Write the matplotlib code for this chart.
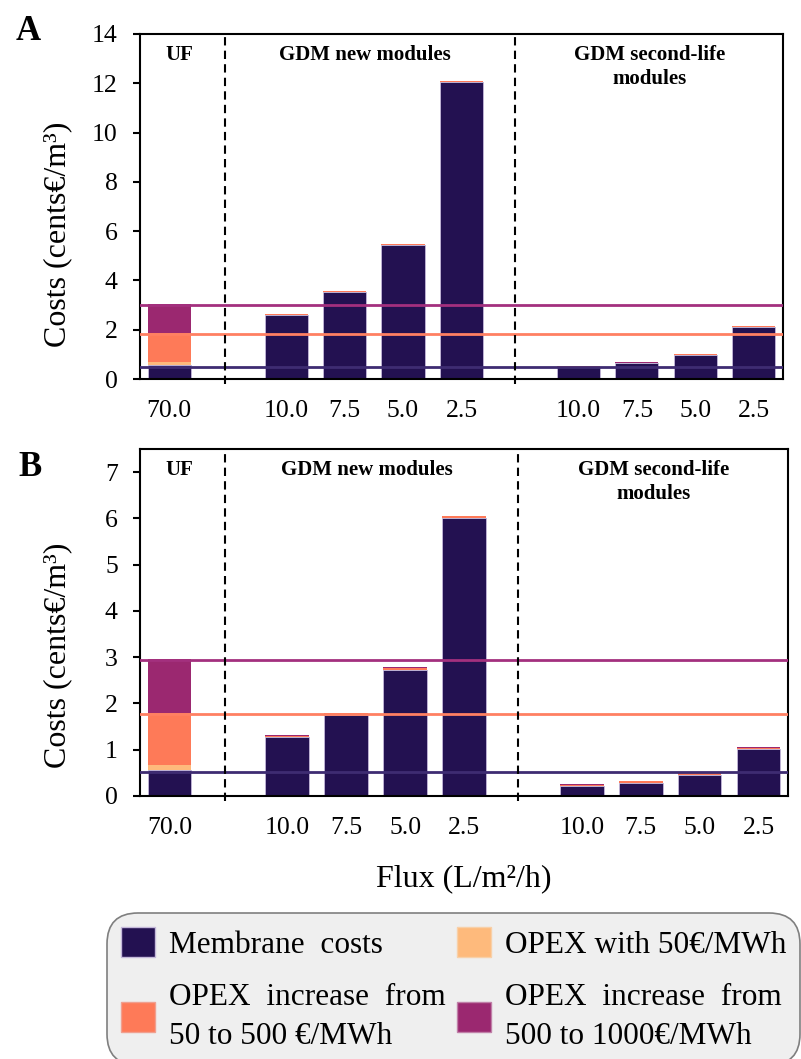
import numpy as np
import matplotlib
matplotlib.use("Agg")
import matplotlib.pyplot as plt
from matplotlib.patches import Patch

plt.rcParams['font.family'] = ['Liberation Serif', 'DejaVu Serif']

# Datos
flux = ["70.0", "10.0", "7.5", "5.0", "2.5", "10.0", "7.5", "5.0", "2.5"]
posiciones = [0, 2, 3, 4, 5, 7, 8, 9, 10]

# Panel A
memb_A = [0.57, 2.60, 3.53, 5.44, 12.05, 0.48, 0.63, 0.96, 2.11]
opex50_A = [0.12, 0.005, 0.005, 0.005, 0.005, 0.005, 0.005, 0.005, 0.005]
inc500_A = [1.18, 0.03, 0.03, 0.03, 0.03, 0.03, 0.03, 0.03, 0.03]
inc1000_A = [1.17, 0.02, 0.02, 0.02, 0.02, 0.02, 0.02, 0.02, 0.02]
lineas_A = [0.50, 1.84, 3.01]

# Panel B
memb_B = [0.56, 1.27, 1.75, 2.73, 6.01, 0.21, 0.28, 0.46, 1.01]
opex50_B = [0.11, 0.004, 0.004, 0.004, 0.004, 0.004, 0.004, 0.004, 0.004]
inc500_B = [1.13, 0.03, 0.03, 0.03, 0.03, 0.03, 0.03, 0.03, 0.03]
inc1000_B = [1.16, 0.015, 0.015, 0.015, 0.015, 0.015, 0.015, 0.015, 0.015]
lineas_B = [0.52, 1.78, 2.94]

c_memb = '#231151'
c_opex = '#feba7c'
c_inc1 = '#fe7a58'
c_inc2 = '#9b2870'
c_lineas = ['#3e2c72', '#ff8062', '#a3307e']

fig = plt.figure(figsize=(8.01, 10.59), dpi=100)
W, H = 801, 1059


def panel(rect, memb, opex, inc1, inc2, lineas, ymax, yticks, ylab_y, letra, letra_xy):
    ax = fig.add_axes(rect)
    x = np.array(posiciones)
    b1 = np.array(memb)
    b2 = b1 + np.array(opex)
    b3 = b2 + np.array(inc1)
    ax.bar(x, memb, width=0.74, color=c_memb, edgecolor='#c4b8da', linewidth=0.6, zorder=2)
    ax.bar(x, opex, bottom=b1, width=0.74, color=c_opex, linewidth=0, zorder=2)
    ax.bar(x, inc1, bottom=b2, width=0.74, color=c_inc1, linewidth=0, zorder=2)
    ax.bar(x, inc2, bottom=b3, width=0.74, color=c_inc2, linewidth=0, zorder=2)
    for val, col in zip(lineas, c_lineas):
        ax.axhline(val, color=col, linewidth=2, zorder=3)
    for xd in [0.95, 5.91]:
        ax.axvline(xd, ymin=-0.015, ymax=1, color='black', linestyle=(0, (4, 2.5)),
                   linewidth=1.5, clip_on=False, zorder=4)
    ax.set_xlim(-0.5, 10.5)
    ax.set_ylim(0, ymax)
    ax.set_yticks(yticks)
    ax.set_xticks(x)
    ax.set_xticklabels(flux)
    ax.tick_params(axis='x', length=0, pad=15, labelsize=18.5)
    ax.tick_params(axis='y', length=5, width=1.5, pad=11, labelsize=18.5)
    for s in ax.spines.values():
        s.set_linewidth(1.5)
    ax.set_ylabel("Costs (cents€/m³)", fontsize=23)
    ax.yaxis.set_label_coords(-0.105, ylab_y)
    grupos = [(0.17, "UF"), (3.35, "GDM new modules"), (8.22, "GDM second-life\nmodules")]
    for gx, txt in grupos:
        ax.annotate(txt, xy=(gx, 1), xycoords=('data', 'axes fraction'),
                    xytext=(0, -8), textcoords='offset points', ha='center', va='top',
                    fontsize=15, fontweight='bold', linespacing=1.25)
    fig.text(letra_xy[0] / W, 1 - letra_xy[1] / H, letra, fontsize=25, fontweight='bold',
             ha='center', va='center')
    return ax


axA = panel([140 / W, 1 - 379 / H, 643 / W, 345 / H], memb_A, opex50_A, inc500_A, inc1000_A,
            lineas_A, 14, np.arange(0, 15, 2), 0.42, "A", (28, 31))
axB = panel([140 / W, 1 - 796 / H, 648 / W, 347 / H], memb_B, opex50_B, inc500_B, inc1000_B,
            lineas_B, 7.5, np.arange(0, 8, 1), 0.405, "B", (30, 467))
axB.set_xlabel("Flux (L/m²/h)", fontsize=23, labelpad=18)

handles = [Patch(facecolor=c_memb, edgecolor='#c4b8da'),
           Patch(facecolor=c_inc1, edgecolor='#f0a090'),
           Patch(facecolor=c_opex, edgecolor='#f8d0a8'),
           Patch(facecolor=c_inc2, edgecolor='#c080a8')]
etiquetas = ["Membrane  costs", "OPEX  increase  from\n50 to 500 €/MWh",
             "OPEX with 50€/MWh", "OPEX  increase  from\n500 to 1000€/MWh"]
leg = fig.legend(handles, etiquetas, loc='upper left', bbox_to_anchor=(107 / W, 1 - 913 / H),
                 ncol=2, fontsize=22.5, handlelength=1.09, handleheight=1.09, handletextpad=0.45,
                 columnspacing=0.35, labelspacing=0.75, borderpad=0.45, borderaxespad=0,
                 frameon=True, fancybox=True, facecolor='#efefef', edgecolor='#7f7f7f',
                 framealpha=1)
for t in leg.get_texts():
    t.set_linespacing(1.45)
leg.get_frame().set_linewidth(1.2)
leg.get_frame().set_boxstyle('round', pad=0.0, rounding_size=1.0)

fig.savefig("out.png", dpi=100)
